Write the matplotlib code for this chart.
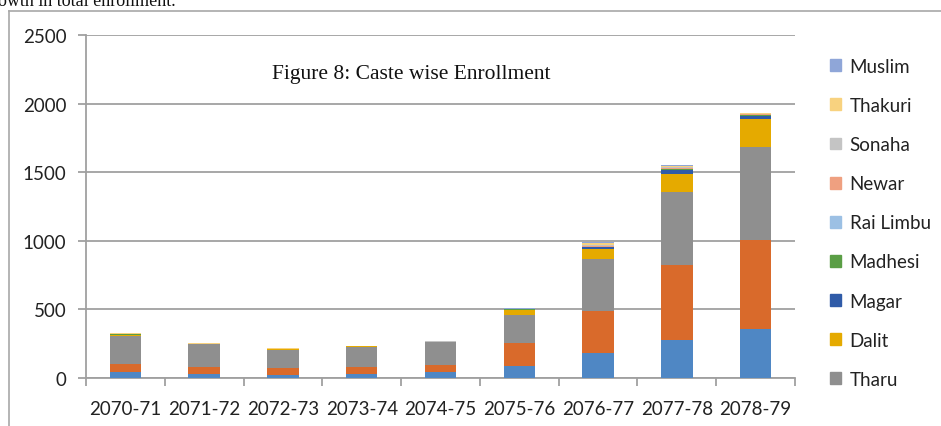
import matplotlib.pyplot as plt
from matplotlib.patches import Patch
import numpy as np

years = ["2070-71", "2071-72", "2072-73", "2073-74", "2074-75",
         "2075-76", "2076-77", "2077-78", "2078-79"]

# bottom two series have no visible legend entry in the source
base_a = [46, 29, 22, 29, 41, 90, 182, 279, 357]
base_b = [54, 54, 48, 49, 56, 163, 304, 547, 651]
tharu = [209, 165, 137, 150, 163, 208, 381, 527, 678]
dalit = [7, 2, 4, 2, 4, 34, 73, 134, 202]
magar = [1, 0, 0, 0, 1, 4, 13, 31, 24]
madhesi = [1, 0, 0, 0, 0, 1, 3, 4, 3]
rai_limbu = [0, 0, 0, 0, 0, 1, 2, 3, 2]
newar = [1, 0, 1, 0, 1, 1, 4, 5, 4]
sonaha = [3, 1, 2, 1, 2, 2, 10, 8, 6]
thakuri = [4, 1, 2, 1, 3, 2, 12, 10, 5]
muslim = [1, 0, 1, 0, 1, 1, 4, 3, 3]

series = [
    (None, base_a, "#4f87c4"),
    (None, base_b, "#d96a2b"),
    ("Tharu", tharu, "#8f8f8f"),
    ("Dalit", dalit, "#e5aa00"),
    ("Magar", magar, "#2f5ba8"),
    ("Madhesi", madhesi, "#5a9e45"),
    ("Rai Limbu", rai_limbu, "#9cc0e4"),
    ("Newar", newar, "#efa080"),
    ("Sonaha", sonaha, "#c4c4c4"),
    ("Thakuri", thakuri, "#f8d27f"),
    ("Muslim", muslim, "#8fa6d8"),
]

font = "Lato"
fsize = 13.5
fig = plt.figure(figsize=(9.41, 4.27), dpi=100)
ax = fig.add_axes([86 / 941, 1 - 379 / 427, 709 / 941, 343 / 427])

x = np.arange(len(years))
bottom = np.zeros(len(years))
handles = []
for name, vals, col in series:
    ax.bar(x, vals, bottom=bottom, width=0.4, color=col, zorder=3)
    bottom += np.array(vals)
    if name:
        handles.append(Patch(color=col, label=name))

ax.set_ylim(0, 2500)
ax.set_xlim(-0.5, len(years) - 0.5)
ax.set_yticks(range(0, 2501, 500))
ax.yaxis.grid(True, color="#a0a0a0", linewidth=1.3, zorder=0)
for s in ["top", "right"]:
    ax.spines[s].set_visible(False)
for s in ["left", "bottom"]:
    ax.spines[s].set_color("#a0a0a0")
    ax.spines[s].set_linewidth(1.3)

ax.set_xticks(x)
ax.set_xticklabels(years)
ax.set_xticks(np.arange(-0.5, len(years), 1), minor=True)
ax.tick_params(axis="x", which="major", length=0, pad=16)
ax.tick_params(axis="x", which="minor", length=6, color="#a0a0a0", width=1.3)
ax.tick_params(axis="y", length=6, color="#a0a0a0", width=1.3, pad=8)
for lab in ax.get_xticklabels() + ax.get_yticklabels():
    lab.set_fontfamily(font)
    lab.set_fontsize(fsize)
    lab.set_color("#222222")

ax.text(0.262, 0.889, "Figure 8: Caste wise Enrollment", transform=ax.transAxes,
        family="Liberation Serif", fontsize=15.5, ha="left", va="center", color="#111111")

leg = fig.legend(handles=handles[::-1], loc="upper left",
                 bbox_to_anchor=(813 / 941, 1 - 42 / 427), frameon=False,
                 handlelength=0.6, handleheight=0.6, handletextpad=0.45,
                 labelspacing=1.18, prop={"family": font, "size": fsize})
for t in leg.get_texts():
    t.set_color("#222222")

# document frame and cut-off text above the chart
fig.add_artist(plt.Line2D([9 / 941, 9 / 941], [0, 1 - 12 / 427], color="#a8a8a8", lw=1.2))
fig.add_artist(plt.Line2D([9 / 941, 1], [1 - 12 / 427, 1 - 12 / 427], color="#a8a8a8", lw=1.2))
fig.text(-2 / 941, 1 - 6 / 427, "owth in total enrollment.", family="Liberation Serif",
         fontsize=13, ha="left", va="baseline", color="#111111")

fig.savefig("out.png", dpi=100)
